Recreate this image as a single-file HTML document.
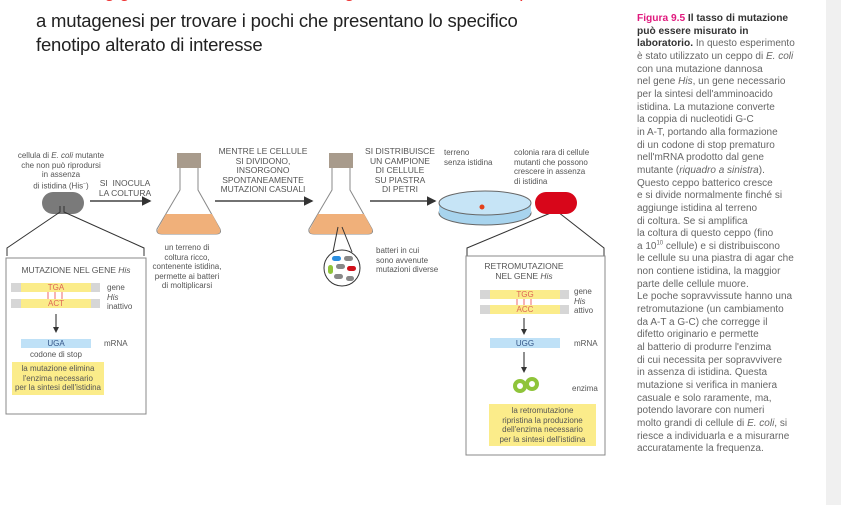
<!DOCTYPE html>
<html><head><meta charset="utf-8"><style>
body{margin:0;width:841px;height:505px;background:#fff;position:relative;overflow:hidden;font-family:"Liberation Sans",sans-serif}
.t{position:absolute;color:#555;font-size:8px;line-height:9.5px;text-align:center}
.top{position:absolute;left:36px;font-size:18.5px;color:#222;font-family:"Liberation Sans Narrow","Liberation Sans",sans-serif;letter-spacing:-0.2px}
#side{position:absolute;left:637px;top:13px;width:195px;font-size:10px;line-height:12.65px;color:#666;white-space:nowrap}
#strip{position:absolute;left:826px;top:0;width:15px;height:505px;background:#f0f0f0}
</style></head><body>
<div class="top" style="top:-20px;color:#e33">screening genetico: esame di molte migliaia di individui sottoposti</div>
<div class="top" style="top:10px">a mutagenesi per trovare i pochi che presentano lo specifico</div>
<div class="top" style="top:34px">fenotipo alterato di interesse</div>
<div id="strip"></div>
<div id="side"><b style="color:#e0197d;font-size:10.2px">Figura 9.5</b> <b style="color:#333;font-size:10.2px">Il tasso di mutazione<br>può essere misurato in<br>laboratorio.</b> In questo esperimento<br>è stato utilizzato un ceppo di <i>E. coli</i><br>con una mutazione dannosa<br>nel gene <i>His</i>, un gene necessario<br>per la sintesi dell'amminoacido<br>istidina. La mutazione converte<br>la coppia di nucleotidi G-C<br>in A-T, portando alla formazione<br>di un codone di stop prematuro<br>nell'mRNA prodotto dal gene<br>mutante (<i>riquadro a sinistra</i>).<br>Questo ceppo batterico cresce<br>e si divide normalmente finché si<br>aggiunge istidina al terreno<br>di coltura. Se si amplifica<br>la coltura di questo ceppo (fino<br>a 10<sup style="font-size:6px;line-height:0">10</sup> cellule) e si distribuiscono<br>le cellule su una piastra di agar che<br>non contiene istidina, la maggior<br>parte delle cellule muore.<br>Le poche sopravvissute hanno una<br>retromutazione (un cambiamento<br>da A-T a G-C) che corregge il<br>difetto originario e permette<br>al batterio di produrre l'enzima<br>di cui necessita per sopravvivere<br>in assenza di istidina. Questa<br>mutazione si verifica in maniera<br>casuale e solo raramente, ma,<br>potendo lavorare con numeri<br>molto grandi di cellule di <i>E. coli</i>, si<br>riesce a individuarla e a misurarne<br>accuratamente la frequenza.</div>

<svg width="630" height="505" style="position:absolute;left:0;top:0">
<defs><marker id="ah" markerWidth="6" markerHeight="6" refX="5" refY="3" orient="auto"><path d="M0,0L6,3L0,6z" fill="#333"/></marker></defs>
<g stroke="#444" stroke-width="1.6" fill="none">
<line x1="90" y1="201" x2="150" y2="201" marker-end="url(#ah)"/>
<line x1="215" y1="201" x2="312" y2="201" marker-end="url(#ah)"/>
<line x1="370" y1="201" x2="435" y2="201" marker-end="url(#ah)"/>
</g>
<rect x="42" y="192" width="42" height="22" rx="11" fill="#7a7a7a"/>
<g stroke="#333" stroke-width="1" fill="none">
<polyline points="60,206 60,212 7,248 7,256"/><polyline points="64,206 64,212 144,248 144,256"/>
<polyline points="553,206 553,212 467,248 467,256"/><polyline points="558,206 558,212 604,248 604,256"/>
</g>
<rect x="6" y="258" width="140" height="156" fill="none" stroke="#888"/>
<rect x="466" y="256" width="139" height="199" fill="none" stroke="#888"/>
<g>
<rect x="177" y="153" width="24" height="15" fill="#a89b8c"/>
<path d="M180,168 L180,190 L157,229 Q156,234 162,234 L216,234 Q222,234 220,229 L198,190 L198,168" fill="#fff" stroke="#888"/>
<path d="M166,214 L212,214 L220,229 Q221,234 216,234 L162,234 Q156,234 158,229z" fill="#f0b07a"/>
</g>
<g>
<rect x="329" y="153" width="24" height="15" fill="#a89b8c"/>
<path d="M332,168 L332,190 L309,229 Q308,234 314,234 L368,234 Q374,234 372,229 L350,190 L350,168" fill="#fff" stroke="#888"/>
<path d="M318,214 L364,214 L372,229 Q373,234 368,234 L314,234 Q308,234 310,229z" fill="#f0b07a"/>
<line x1="338" y1="227" x2="333" y2="252" stroke="#333"/><line x1="342" y1="227" x2="352" y2="252" stroke="#333"/>
<circle cx="342" cy="268" r="18" fill="#fff" stroke="#333"/>
<rect x="332" y="256" width="9" height="5" rx="2.5" fill="#2a8ee0"/><rect x="344" y="256" width="9" height="5" rx="2.5" fill="#888"/>
<rect x="328" y="265" width="5" height="9" rx="2.5" fill="#8fc43a"/><rect x="336" y="264" width="9" height="5" rx="2.5" fill="#888"/>
<rect x="347" y="266" width="9" height="5" rx="2.5" fill="#d0101a"/><rect x="334" y="274" width="9" height="5" rx="2.5" fill="#888"/><rect x="346" y="276" width="8" height="5" rx="2.5" fill="#888"/>
</g>
<g>
<ellipse cx="485" cy="213" rx="46" ry="12" fill="#a8d4ee" stroke="#666"/>
<rect x="439" y="203" width="92" height="10" fill="#a8d4ee"/>
<ellipse cx="485" cy="203" rx="46" ry="12" fill="#c6e4f6" stroke="#666"/>
<circle cx="482" cy="207" r="2.5" fill="#e3401a"/>
</g>
<rect x="535" y="192" width="42" height="22" rx="11" fill="#d8061a"/>
<rect x="11" y="283" width="89" height="9" fill="#d6d6d6"/><rect x="21" y="283" width="70" height="9" fill="#fbec8a"/>
<rect x="11" y="299" width="89" height="9" fill="#d6d6d6"/><rect x="21" y="299" width="70" height="9" fill="#fbec8a"/>
<g stroke="#f49a9a" stroke-width="1.5"><line x1="48" y1="292" x2="48" y2="299"/><line x1="55" y1="292" x2="55" y2="299"/><line x1="62" y1="292" x2="62" y2="299"/></g>
<line x1="56" y1="314" x2="56" y2="332" stroke="#222" marker-end="url(#ah)"/>
<rect x="21" y="339" width="70" height="9" fill="#bfe1f7"/>
<rect x="12" y="362" width="92" height="33" fill="#fbec8a"/>
<rect x="480" y="290" width="89" height="9" fill="#d6d6d6"/><rect x="490" y="290" width="70" height="9" fill="#fbec8a"/>
<rect x="480" y="305" width="89" height="9" fill="#d6d6d6"/><rect x="490" y="305" width="70" height="9" fill="#fbec8a"/>
<g stroke="#f49a9a" stroke-width="1.5"><line x1="517" y1="299" x2="517" y2="305"/><line x1="524" y1="299" x2="524" y2="305"/><line x1="531" y1="299" x2="531" y2="305"/></g>
<line x1="524" y1="318" x2="524" y2="334" stroke="#222" marker-end="url(#ah)"/>
<rect x="490" y="338" width="70" height="10" fill="#bfe1f7"/>
<line x1="524" y1="352" x2="524" y2="372" stroke="#222" marker-end="url(#ah)"/>
<g fill="none" stroke="#8fc43a" stroke-width="4"><circle cx="520" cy="386" r="5"/><circle cx="532" cy="384" r="5"/></g>
<rect x="489" y="404" width="107" height="42" fill="#fbec8a"/>
</svg>

<div class="t" style="left:0;top:151px;width:122px">cellula di <i>E. coli</i> mutante<br>che non può riprodursi<br>in assenza<br>di istidina (His<sup style="font-size:5px">−</sup>)</div>
<div class="t" style="left:90px;top:179px;width:70px;font-size:8.5px">SI&nbsp; INOCULA<br>LA COLTURA</div>
<div class="t" style="left:208px;top:147px;width:110px;font-size:8.5px">MENTRE LE CELLULE<br>SI DIVIDONO,<br>INSORGONO<br>SPONTANEAMENTE<br>MUTAZIONI CASUALI</div>
<div class="t" style="left:142px;top:243px;width:90px">un terreno di<br>coltura ricco,<br>contenente istidina,<br>permette ai batteri<br>di moltiplicarsi</div>
<div class="t" style="left:360px;top:147px;width:80px;font-size:8.5px">SI DISTRIBUISCE<br>UN CAMPIONE<br>DI CELLULE<br>SU PIASTRA<br>DI PETRI</div>
<div class="t" style="left:444px;top:148px;text-align:left">terreno<br>senza istidina</div>
<div class="t" style="left:514px;top:148px;text-align:left">colonia rara di cellule<br>mutanti che possono<br>crescere in assenza<br>di istidina</div>
<div class="t" style="left:376px;top:246px;text-align:left">batteri in cui<br>sono avvenute<br>mutazioni diverse</div>
<div class="t" style="left:6px;top:266px;width:140px;font-size:8.5px">MUTAZIONE NEL GENE <i>His</i></div>
<div class="t" style="left:21px;top:283px;width:70px;color:#d65">TGA</div>
<div class="t" style="left:21px;top:299px;width:70px;color:#d65">ACT</div>
<div class="t" style="left:107px;top:283px;text-align:left">gene<br><i>His</i><br>inattivo</div>
<div class="t" style="left:21px;top:339px;width:70px;color:#358">UGA</div>
<div class="t" style="left:104px;top:339px">mRNA</div>
<div class="t" style="left:6px;top:350px;width:100px">codone di stop</div>
<div class="t" style="left:12px;top:364px;width:92px">la mutazione elimina<br>l'enzima necessario<br>per la sintesi dell'istidina</div>
<div class="t" style="left:466px;top:262px;width:116px;font-size:8.5px">RETROMUTAZIONE<br>NEL GENE <i>His</i></div>
<div class="t" style="left:490px;top:290px;width:70px;color:#d65">TGG</div>
<div class="t" style="left:490px;top:305px;width:70px;color:#d65">ACC</div>
<div class="t" style="left:574px;top:287px;text-align:left">gene<br><i>His</i><br>attivo</div>
<div class="t" style="left:490px;top:339px;width:70px;color:#358">UGG</div>
<div class="t" style="left:574px;top:339px">mRNA</div>
<div class="t" style="left:572px;top:384px">enzima</div>
<div class="t" style="left:489px;top:406px;width:107px">la retromutazione<br>ripristina la produzione<br>dell'enzima necessario<br>per la sintesi dell'istidina</div>
</body></html>
